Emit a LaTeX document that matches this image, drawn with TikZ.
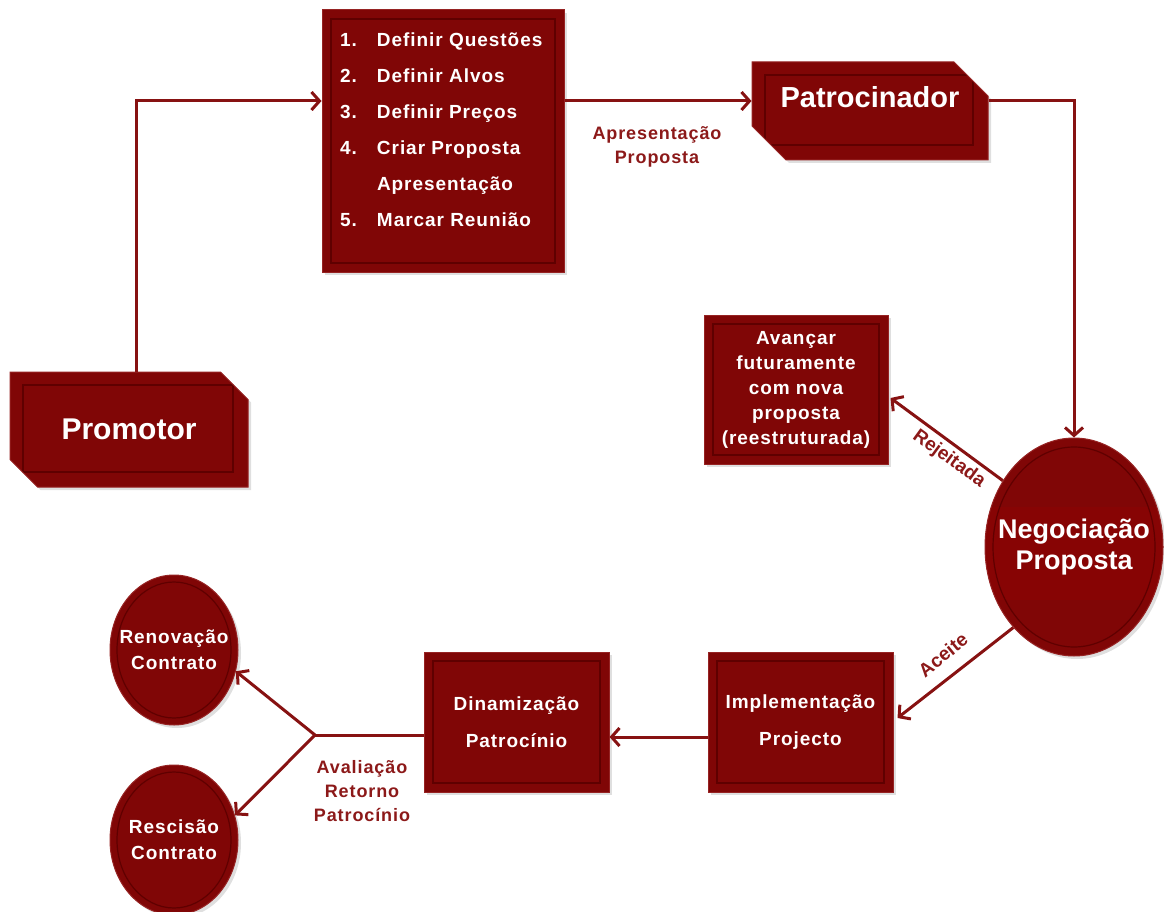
\documentclass[tikz,border=0pt]{standalone}
\usepackage{fontspec}
\setmainfont{Liberation Sans}
\newfontfamily\spaced{Liberation Sans}[LetterSpace=5]
\usetikzlibrary{arrows.meta,shapes.misc,shapes.geometric,calc,shadows}
\definecolor{boxred}{RGB}{128,6,6}
\definecolor{bandred}{RGB}{135,4,4}
\definecolor{rimred}{RGB}{150,35,35}
\definecolor{innerline}{RGB}{95,0,0}
\definecolor{arrowred}{RGB}{135,18,18}
\definecolor{lblred}{RGB}{140,25,25}
\tikzset{
  base/.style={fill=boxred, draw=rimred, line width=1pt, text=white, align=center, inner sep=0pt,
    drop shadow={opacity=0.25, shadow xshift=3pt, shadow yshift=-3pt}},
  bevelbox/.style={base, chamfered rectangle, chamfered rectangle xsep=17pt, chamfered rectangle ysep=17pt,
    chamfered rectangle corners={north east,south west},
    path picture={\draw[innerline, line width=1.3pt]
      ([shift={(13pt,-13pt)}]path picture bounding box.north west) rectangle
      ([shift={(-15pt,15pt)}]path picture bounding box.south east);}},
  panel/.style={base, rectangle,
    path picture={\draw[innerline, line width=1.3pt]
      ([shift={(9pt,-9pt)}]path picture bounding box.north west) rectangle
      ([shift={(-9pt,9pt)}]path picture bounding box.south east);}},
  disc/.style n args={2}{base, ellipse,
    path picture={\draw[innerline, line width=1.2pt] (path picture bounding box.center)
      ellipse [x radius=#1, y radius=#2];}},
  banddisc/.style n args={2}{base, ellipse,
    path picture={\fill[bandred] ([yshift=40pt]path picture bounding box.west) rectangle ([yshift=-53pt]path picture bounding box.east);
      \draw[innerline, line width=1.2pt] (path picture bounding box.center)
      ellipse [x radius=#1, y radius=#2];}},
  boxtxt/.style={font=\spaced\bfseries\fontsize{19}{37}\selectfont},
  conn/.style={draw=arrowred, line width=3pt, -{Straight Barb[length=8pt,width=18pt]}},
  plain/.style={draw=arrowred, line width=3pt},
  lbl/.style={text=lblred, font=\spaced\bfseries\fontsize{18}{24}\selectfont, align=center, inner sep=0pt},
  rlbl/.style={text=lblred, font=\bfseries\fontsize{19}{24}\selectfont, inner sep=0pt},
}
\begin{document}
\begin{tikzpicture}[x=1pt,y=-1pt]
\useasboundingbox (0,0) rectangle (1164,912);

% nodes
\node[bevelbox, minimum width=238pt, minimum height=115pt, font=\bfseries\fontsize{30}{36}\selectfont]
  (prom) at (129,429.5) {Promotor};

\node[panel, minimum width=242pt, minimum height=262pt] (list) at (443,141)
  {\parbox[c][262pt][t]{222pt}{\spaced\bfseries\fontsize{19}{36}\selectfont\raggedright
   \hspace*{8pt}\makebox[37pt][l]{\rule{0pt}{37pt}1.}Definir Questões\\
   \hspace*{8pt}\makebox[37pt][l]{2.}Definir Alvos\\
   \hspace*{8pt}\makebox[37pt][l]{3.}Definir Preços\\
   \hspace*{8pt}\makebox[37pt][l]{4.}Criar Proposta\\
   \hspace*{8pt}\makebox[37pt][l]{}Apresentação\\
   \hspace*{8pt}\makebox[37pt][l]{5.}Marcar Reunião}};

\node[bevelbox, minimum width=236pt, minimum height=98pt, text depth=28pt,
  font=\bfseries\fontsize{29}{34}\selectfont] (patr) at (870,111) {Patrocinador};

\node[panel, minimum width=184pt, minimum height=149pt, font=\spaced\bfseries\fontsize{19}{25}\selectfont]
  (avan) at (796,389.5) {Avançar\\futuramente\\com nova\\proposta\\(reestruturada)};

\node[banddisc={81pt}{100pt}, minimum width=178pt, minimum height=218pt, font=\bfseries\fontsize{27}{31}\selectfont]
  (neg) at (1074,547) {\makebox[0pt]{Negociação}\\\makebox[0pt]{Proposta}};

\node[panel, minimum width=185pt, minimum height=140pt, boxtxt] (impl) at (800.5,722)
  {Implementação\\Projecto};
\node[panel, minimum width=185pt, minimum height=140pt, boxtxt] (dina) at (516.5,722)
  {Dinamização\\Patrocínio};

\node[disc={57pt}{68pt}, minimum width=128pt, minimum height=150pt, font=\spaced\bfseries\fontsize{19}{26}\selectfont]
  (reno) at (174,650) {\makebox[0pt]{Renovação}\\\makebox[0pt]{Contrato}};
\node[disc={57pt}{68pt}, minimum width=128pt, minimum height=150pt, font=\spaced\bfseries\fontsize{19}{26}\selectfont]
  (resc) at (174,840) {\makebox[0pt]{Rescisão}\\\makebox[0pt]{Contrato}};

% connectors
\draw[conn] ([xshift=7pt]prom.north) |- ([yshift=40pt]list.west);
\draw[conn] ([yshift=40pt]list.east) -- ([yshift=40pt]list.east -| patr.west);
\draw[conn] ([yshift=10pt]patr.east) -| (neg.north);
\draw[conn] (neg.137) -- ([xshift=2pt,yshift=-8.5pt]avan.east);
\draw[conn] (neg.233) -- ([xshift=4pt,yshift=4pt]impl.east);
\draw[conn] ([yshift=-15pt]impl.west) -- ([yshift=-15pt]dina.east);
\coordinate (fork) at (315,735);
\draw[plain] ([yshift=-13pt]dina.west) -- (fork);
\draw[conn] (fork) -- (reno.-19);
\draw[conn] (fork) -- (resc.22);

% labels
\node[lbl] (apr) at (657,147) {Apresentação\\Proposta};
\node[rlbl, rotate=-36] (rej) at (949,459) {Rejeitada};
\node[rlbl, rotate=39] (ace) at (943,655) {Aceite};
\node[lbl] (aval) at (362,791) {Avaliação\\Retorno\\Patrocínio};
\end{tikzpicture}
\end{document}
